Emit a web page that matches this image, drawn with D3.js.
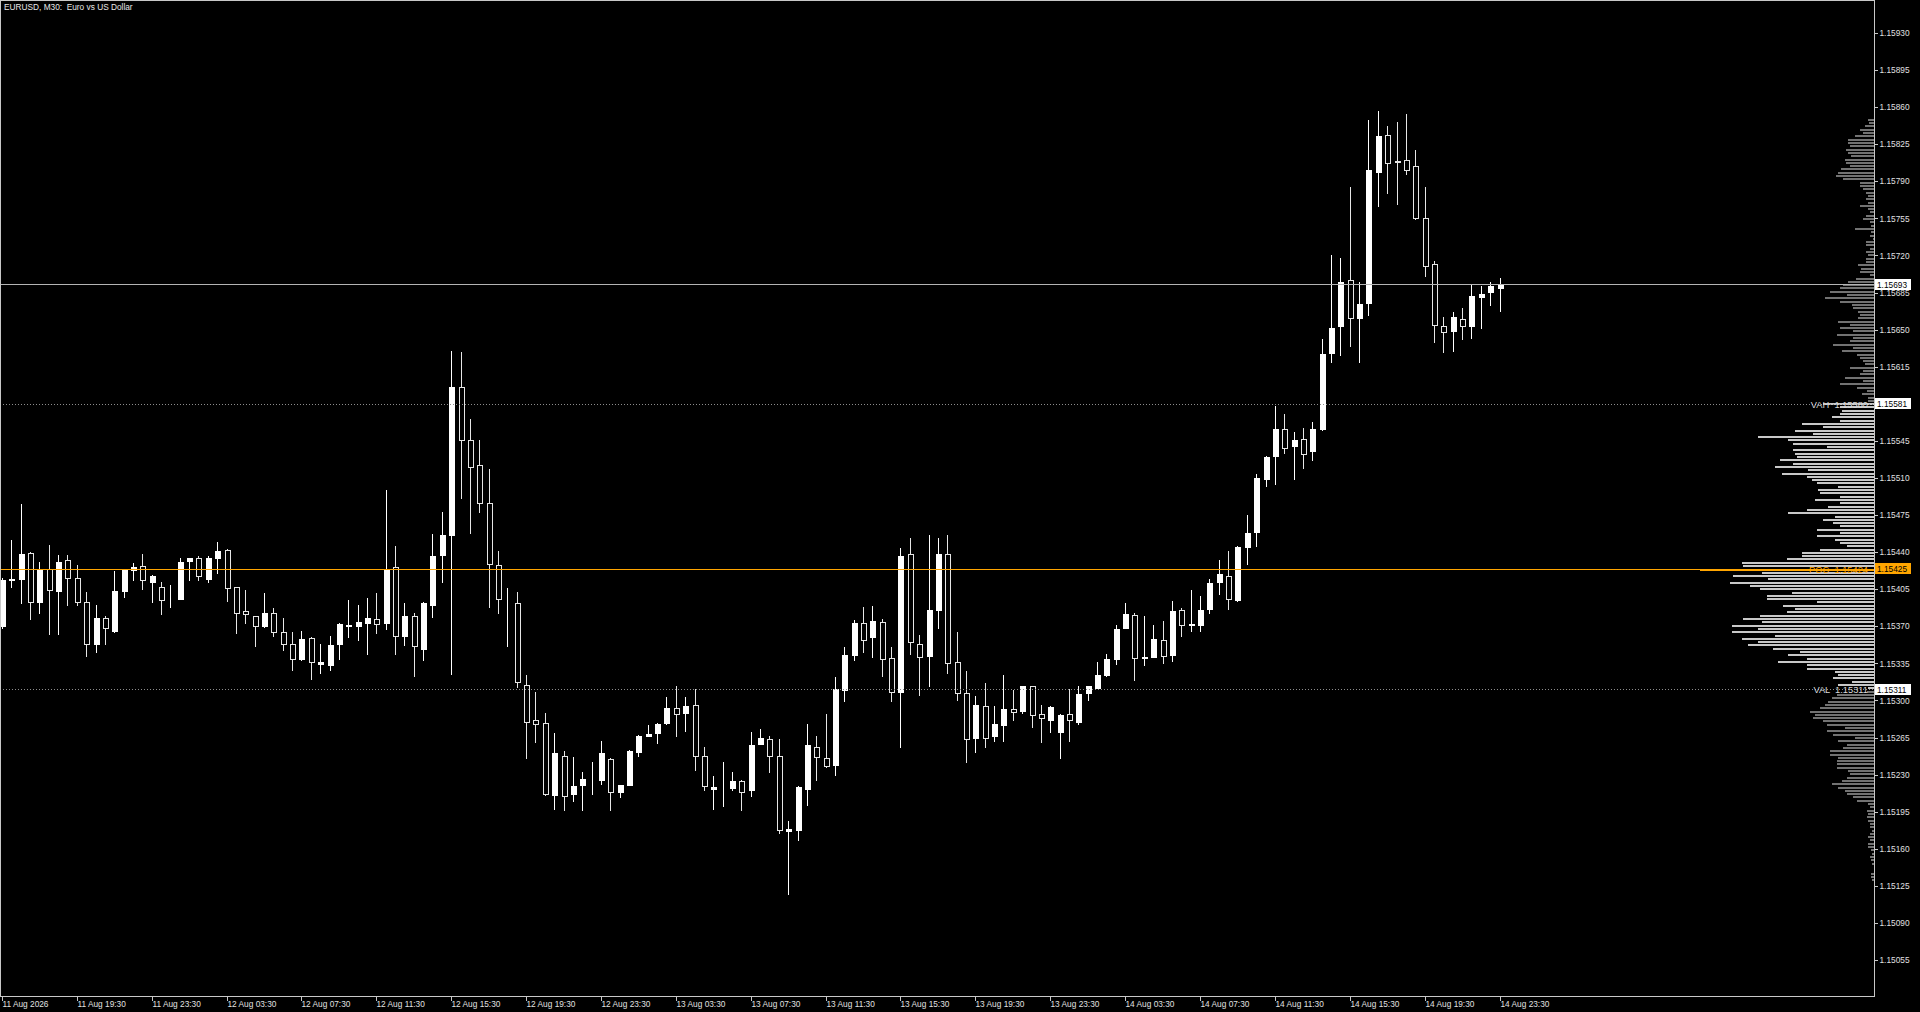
<!DOCTYPE html>
<html><head><meta charset="utf-8">
<script src="https://cdn.jsdelivr.net/npm/d3@7"></script>
<style>html,body{margin:0;padding:0;background:#000;overflow:hidden}text{font-family:"Liberation Sans",Arial,sans-serif;white-space:pre}</style>
</head><body><svg id="c" width="1920" height="1012"></svg>
<script>
// ---- data (EURUSD M30) ----
const title = "EURUSD, M30:  Euro vs US Dollar";
const open = [1.15370,1.15414,1.15415,1.15439,1.15393,1.15424,1.15403,1.15433,1.15416,1.15393,
1.15353,1.15378,1.15366,1.15403,1.15423,1.15427,1.15412,1.15407,1.15395,1.15396,
1.15432,1.15434,1.15415,1.15434,1.15442,1.15407,1.15384,1.15380,1.15370,1.15383,
1.15365,1.15353,1.15339,1.15359,1.15334,1.15333,1.15353,1.15370,1.15370,1.15373,
1.15377,1.15373,1.15426,1.15361,1.15380,1.15349,1.15390,1.15437,1.15456,1.15596,
1.15546,1.15522,1.15486,1.15428,1.15392,1.15392,1.15315,1.15282,1.15279,1.15211,
1.15248,1.15212,1.15220,1.15225,1.15225,1.15245,1.15214,1.15220,1.15251,1.15266,
1.15269,1.15279,1.15293,1.15288,1.15296,1.15248,1.15216,1.15217,1.15217,1.15224,
1.15215,1.15259,1.15264,1.15248,1.15177,1.15178,1.15216,1.15256,1.15246,1.15239,
1.15310,1.15343,1.15373,1.15360,1.15374,1.15340,1.15308,1.15438,1.15353,1.15342,
1.15385,1.15438,1.15336,1.15307,1.15265,1.15295,1.15266,1.15277,1.15292,1.15290,
1.15314,1.15287,1.15282,1.15270,1.15287,1.15280,1.15307,1.15312,1.15324,1.15339,
1.15368,1.15381,1.15340,1.15341,1.15357,1.15343,1.15385,1.15371,1.15371,1.15386,
1.15412,1.15417,1.15395,1.15445,1.15459,1.15509,1.15531,1.15556,1.15540,1.15547,
1.15535,1.15556,1.15628,1.15653,1.15697,1.15661,1.15675,1.15799,1.15834,1.15809,
1.15810,1.15804,1.15755,1.15712,1.15653,1.15649,1.15660,1.15653,1.15681,1.15686,
1.15689];
const high = [1.15416,1.15451,1.15485,1.15440,1.15431,1.15447,1.15437,1.15437,1.15428,1.15402,
1.15390,1.15380,1.15422,1.15424,1.15430,1.15438,1.15418,1.15412,1.15409,1.15434,
1.15434,1.15436,1.15436,1.15450,1.15443,1.15407,1.15404,1.15380,1.15401,1.15387,
1.15378,1.15365,1.15366,1.15360,1.15353,1.15361,1.15373,1.15395,1.15390,1.15397,
1.15401,1.15499,1.15446,1.15392,1.15383,1.15393,1.15457,1.15478,1.15630,1.15629,
1.15566,1.15546,1.15518,1.15441,1.15406,1.15402,1.15324,1.15308,1.15288,1.15269,
1.15252,1.15247,1.15232,1.15242,1.15262,1.15246,1.15220,1.15253,1.15267,1.15277,
1.15279,1.15303,1.15314,1.15303,1.15311,1.15256,1.15229,1.15242,1.15232,1.15225,
1.15270,1.15273,1.15266,1.15264,1.15186,1.15219,1.15278,1.15266,1.15287,1.15322,
1.15350,1.15376,1.15388,1.15389,1.15377,1.15350,1.15444,1.15453,1.15362,1.15456,
1.15453,1.15456,1.15365,1.15328,1.15304,1.15316,1.15295,1.15324,1.15310,1.15314,
1.15314,1.15296,1.15295,1.15287,1.15311,1.15314,1.15314,1.15336,1.15344,1.15371,
1.15392,1.15383,1.15380,1.15371,1.15375,1.15394,1.15387,1.15404,1.15399,1.15415,
1.15433,1.15441,1.15446,1.15475,1.15514,1.15531,1.15578,1.15570,1.15553,1.15557,
1.15563,1.15641,1.15720,1.15718,1.15785,1.15695,1.15848,1.15856,1.15842,1.15846,
1.15854,1.15820,1.15785,1.15715,1.15662,1.15667,1.15670,1.15693,1.15691,1.15695,
1.15699];
const low = [1.15368,1.15407,1.15392,1.15377,1.15383,1.15363,1.15363,1.15390,1.15390,1.15342,
1.15346,1.15353,1.15365,1.15398,1.15414,1.15405,1.15393,1.15382,1.15388,1.15396,
1.15414,1.15414,1.15412,1.15420,1.15394,1.15364,1.15373,1.15351,1.15369,1.15361,
1.15348,1.15329,1.15338,1.15320,1.15326,1.15329,1.15339,1.15360,1.15357,1.15344,
1.15364,1.15367,1.15344,1.15352,1.15323,1.15338,1.15379,1.15412,1.15325,1.15491,
1.15458,1.15478,1.15388,1.15383,1.15351,1.15313,1.15246,1.15261,1.15211,1.15198,
1.15197,1.15205,1.15197,1.15212,1.15221,1.15197,1.15209,1.15220,1.15248,1.15266,
1.15260,1.15278,1.15266,1.15271,1.15234,1.15215,1.15198,1.15200,1.15215,1.15197,
1.15210,1.15259,1.15232,1.15175,1.15117,1.15168,1.15201,1.15225,1.15237,1.15230,
1.15299,1.15338,1.15346,1.15341,1.15323,1.15299,1.15256,1.15344,1.15305,1.15314,
1.15368,1.15326,1.15300,1.15242,1.15251,1.15256,1.15262,1.15262,1.15282,1.15288,
1.15275,1.15261,1.15270,1.15246,1.15262,1.15278,1.15300,1.15312,1.15323,1.15334,
1.15368,1.15319,1.15333,1.15341,1.15335,1.15337,1.15361,1.15366,1.15366,1.15383,
1.15400,1.15386,1.15394,1.15429,1.15446,1.15502,1.15504,1.15534,1.15509,1.15519,
1.15527,1.15555,1.15619,1.15626,1.15635,1.15619,1.15664,1.15767,1.15779,1.15769,
1.15797,1.15754,1.15701,1.15638,1.15629,1.15630,1.15641,1.15642,1.15652,1.15673,
1.15668];
const close = [1.15414,1.15415,1.15438,1.15393,1.15424,1.15404,1.15431,1.15416,1.15393,1.15353,
1.15378,1.15368,1.15403,1.15424,1.15426,1.15414,1.15417,1.15395,1.15395,1.15431,
1.15434,1.15417,1.15434,1.15441,1.15406,1.15383,1.15382,1.15370,1.15383,1.15365,
1.15353,1.15339,1.15358,1.15336,1.15336,1.15352,1.15372,1.15371,1.15374,1.15378,
1.15372,1.15424,1.15361,1.15380,1.15351,1.15392,1.15436,1.15456,1.15596,1.15546,
1.15520,1.15486,1.15429,1.15396,1.15392,1.15317,1.15280,1.15278,1.15212,1.15250,
1.15210,1.15219,1.15226,1.15225,1.15250,1.15214,1.15220,1.15252,1.15266,1.15268,
1.15278,1.15293,1.15287,1.15295,1.15248,1.15219,1.15218,1.15217,1.15224,1.15214,
1.15258,1.15265,1.15248,1.15178,1.15179,1.15218,1.15258,1.15247,1.15238,1.15311,
1.15343,1.15373,1.15357,1.15375,1.15339,1.15308,1.15436,1.15355,1.15341,1.15385,
1.15438,1.15335,1.15307,1.15264,1.15296,1.15265,1.15278,1.15292,1.15289,1.15314,
1.15286,1.15283,1.15294,1.15286,1.15282,1.15306,1.15314,1.15324,1.15339,1.15367,
1.15382,1.15340,1.15341,1.15358,1.15342,1.15384,1.15371,1.15372,1.15385,1.15411,
1.15419,1.15396,1.15445,1.15458,1.15510,1.15530,1.15556,1.15538,1.15546,1.15533,
1.15556,1.15627,1.15652,1.15695,1.15661,1.15674,1.15801,1.15833,1.15807,1.15808,
1.15801,1.15755,1.15710,1.15654,1.15648,1.15662,1.15653,1.15682,1.15684,1.15691,
1.15693];
// time axis labels (bar index -> label)
const timeTickIdx = [0,8,16,24,32,40,48,56,64,72,80,88,96,104,112,120,128,136,144,152,160];
const timeTickLabels = ["11 Aug 2026","11 Aug 19:30","11 Aug 23:30","12 Aug 03:30","12 Aug 07:30","12 Aug 11:30",
 "12 Aug 15:30","12 Aug 19:30","12 Aug 23:30","13 Aug 03:30","13 Aug 07:30","13 Aug 11:30","13 Aug 15:30",
 "13 Aug 19:30","13 Aug 23:30","14 Aug 03:30","14 Aug 07:30","14 Aug 11:30","14 Aug 15:30","14 Aug 19:30","14 Aug 23:30"];
// price axis labels
const priceTicks = [1.15930,1.15895,1.15860,1.15825,1.15790,1.15755,1.15720,1.15685,1.15650,1.15615,1.15580,
 1.15545,1.15510,1.15475,1.15440,1.15405,1.15370,1.15335,1.15300,1.15265,1.15230,1.15195,1.15160,1.15125,1.15090,1.15055];
// market profile levels
const lastPrice = 1.15693;
const vah = 1.15580, vahAxis = 1.15581;
const poc = 1.15424, pocAxis = 1.15425;
const val = 1.15311;
// volume profile, one value per price bin from the top bin downwards
const profileTop = 1.15848, profileBin = 0.0000312;
const profileVol = [6,5,9,14,11,19,26,26,24,28,26,23,29,28,24,33,36,38,31,14,14,11,8,6,8,6,14,6,4,8,
11,4,3,19,3,4,1,8,8,4,8,6,8,8,16,13,14,4,18,
26,31,34,44,27,49,34,22,21,16,14,16,36,24,34,21,37,21,24,41,21,32,17,14,11,9,24,11,14,29,
11,34,17,7,12,6,6,51,34,32,34,42,34,72,51,79,61,116,86,81,47,
81,79,77,94,81,99,66,92,67,62,57,36,56,54,34,59,34,46,67,86,39,51,41,34,57,34,57,39,34,27,
54,72,72,87,132,131,174,112,141,106,144,124,114,82,107,107,57,91,79,87,114,131,112,142,116,142,99,132,116,126,
101,74,86,67,96,67,67,39,36,41,22,36,6,7,37,42,46,49,54,64,59,61,51,47,29,47,41,19,36,27,
31,44,44,36,37,37,37,26,24,27,32,42,36,29,27,21,17,6,4,7,6,7,6,4,4,2,4,6,4,6,6,
3,2,4,3,2,0,0,3,3,2];

// ---- drawing ----
const svg = d3.select("#c");
const axisX = 1874, axisY = 996;
const y = d3.scaleLinear().domain([1.15055, 1.15930]).range([960, 33]);
const x = d3.scaleLinear().domain([0, 160]).range([1.9, 1499.5]);
const vx = d3.scaleLinear().domain([0, d3.max(profileVol)]).range([0, 174]);
const py = v => Math.round(y(v));
const F = 8.3;

svg.append("rect").attr("width",1920).attr("height",1012).attr("fill","#000");

const bars = d3.range(open.length).map(i => ({i, o:open[i], h:high[i], l:low[i], c:close[i]}));
const cg = svg.append("g").attr("shape-rendering","crispEdges");
bars.forEach(d => {
  const cx = Math.round(x(d.i));
  const bull = d.c >= d.o;
  const col = bull ? "#ffffff" : "#e6e6e6";
  cg.append("line").attr("x1",cx+0.5).attr("x2",cx+0.5)
    .attr("y1",py(d.h)).attr("y2",py(d.l)+1).attr("stroke",col).attr("stroke-width",1);
  const t = py(Math.max(d.o,d.c)), b = py(Math.min(d.o,d.c));
  cg.append("rect").attr("x",cx-1.5).attr("y",t+0.5).attr("width",5).attr("height",Math.max(0,b-t))
    .attr("fill", bull ? "#ffffff" : "#000000").attr("stroke",col).attr("stroke-width",1);
});

// profile
const pg = svg.append("g").attr("shape-rendering","crispEdges");
const maxV = d3.max(profileVol);
profileVol.forEach((v,k) => {
  if (v <= 0) return;
  const p = profileTop - k*profileBin;
  if (v === maxV) return;
  const inVA = p <= vah + 0.000005 && p >= val - 0.000005;
  const yy = y(p);
  pg.append("rect").attr("x", axisX - vx(v)).attr("y", Math.round(yy-1)).attr("width", vx(v)).attr("height", 2)
    .attr("fill", inVA ? "#c8c8c8" : "#727272");
});

// horizontal lines
const lg = svg.append("g").attr("shape-rendering","crispEdges");
lg.append("line").attr("x1",0).attr("x2",axisX).attr("y1",py(lastPrice)+0.5).attr("y2",py(lastPrice)+0.5)
  .attr("stroke","#b4b4b4").attr("stroke-width",1);
[vah,val].forEach(v => lg.append("line").attr("x1",0).attr("x2",axisX).attr("y1",py(v)+0.5).attr("y2",py(v)+0.5)
  .attr("stroke","#8c8c8c").attr("stroke-width",1).attr("stroke-dasharray","1,2"));
lg.append("line").attr("x1",0).attr("x2",axisX).attr("y1",py(poc)+0.5).attr("y2",py(poc)+0.5)
  .attr("stroke","#ffa500").attr("stroke-width",1);
lg.append("rect").attr("x",axisX - vx(maxV)).attr("y",py(poc)).attr("width",vx(maxV)).attr("height",2).attr("fill","#ffa500");

// level labels inside chart
const lvl = [["VAH  " + vah.toFixed(5), vah, "#d8d8d8"],["POC  " + poc.toFixed(5), poc, "#ffa500"],["VAL  " + val.toFixed(5), val, "#d8d8d8"]];
lvl.forEach(([t,v,c]) => svg.append("text").attr("x",1868).attr("y",py(v)+3.5).attr("text-anchor","end")
  .attr("font-size",9.3).attr("fill",c).text(t));

// frame
svg.append("rect").attr("x",0.5).attr("y",0.5).attr("width",axisX).attr("height",axisY).attr("fill","none")
  .attr("stroke","#c8c8c8").attr("shape-rendering","crispEdges");

// price axis
const ya = d3.axisRight(y).tickValues(priceTicks).tickFormat(d3.format(".5f")).tickSize(3).tickPadding(2);
const gy = svg.append("g").attr("transform",`translate(${axisX+0.5},0)`).call(ya);
gy.select(".domain").remove();
gy.selectAll("line").attr("stroke","#c8c8c8").attr("shape-rendering","crispEdges");
gy.selectAll("text").attr("fill","#e0e0e0").attr("font-size",F).attr("font-family","Liberation Sans, Arial, sans-serif");

// time axis
const xa = d3.axisBottom(x).tickValues(timeTickIdx).tickFormat((d,i)=>timeTickLabels[i]).tickSize(4).tickPadding(1);
const gx = svg.append("g").attr("transform",`translate(0,${axisY+0.5})`).call(xa);
gx.select(".domain").remove();
gx.selectAll(".tick").attr("transform", d => `translate(${Math.round(x(d))+0.5},0)`);
gx.selectAll("line").attr("stroke","#c8c8c8").attr("shape-rendering","crispEdges");
gx.selectAll("text").attr("fill","#e0e0e0").attr("font-size",F).attr("text-anchor","start").attr("x",0)
  .attr("font-family","Liberation Sans, Arial, sans-serif");

// axis value boxes
const boxes = [[lastPrice, lastPrice.toFixed(5), "#ffffff"],[vahAxis, vahAxis.toFixed(5), "#ffffff"],
  [pocAxis, pocAxis.toFixed(5), "#ffa500"],[val, val.toFixed(5), "#ffffff"]];
boxes.forEach(([v,t,c]) => {
  const yy = py(v);
  svg.append("rect").attr("x",1875).attr("y",yy-5).attr("width",36).attr("height",11).attr("fill",c);
  svg.append("text").attr("x",1877).attr("y",yy+3.5).attr("font-size",F).attr("fill","#000").text(t);
});

// title
svg.append("text").attr("x",4).attr("y",10).attr("font-size",F).attr("fill","#e8e8e8").text(title);
</script></body></html>
